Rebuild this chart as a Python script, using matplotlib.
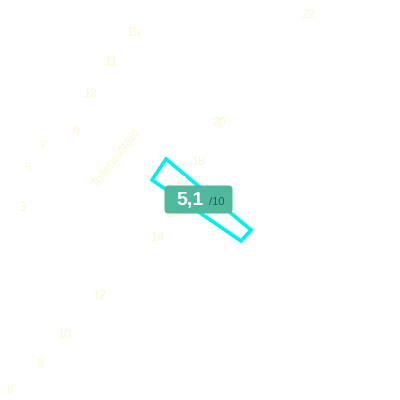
import matplotlib
matplotlib.use("Agg")
import matplotlib.pyplot as plt
from matplotlib.patches import Polygon, FancyBboxPatch

# House numbers on the map and their map coordinates (pixels, y down)
house_numbers = ["22", "15", "11", "13", "20", "18", "9", "7", "16", "5",
                 "14A", "3", "14", "12", "10", "8", "6"]
house_x = [308, 133, 111, 90, 219, 198, 76, 42, 180, 28,
           177, 22, 157, 99, 64, 40, 10]
house_y = [15, 33, 62, 94, 123, 162, 132, 147, 182, 169,
           214, 208, 238, 296, 335, 364, 391]

street_name = "Tollensstraat"
street_xy = (117, 158)
street_angle = 53

# Highlighted building outline
building_x = [166, 152, 241, 251]
building_y = [159, 180, 241, 230]

rating = 5.1
rating_max = 10

plt.rcParams["font.family"] = ["Liberation Sans", "DejaVu Sans"]

fig = plt.figure(figsize=(4, 4), dpi=100)
ax = fig.add_axes([0, 0, 1, 1])
ax.set_xlim(0, 400)
ax.set_ylim(400, 0)
ax.axis("off")

label_color = "#fcf9d2"
for t, x, y in zip(house_numbers, house_x, house_y):
    ax.text(x, y, t, color=label_color, fontsize=9, ha="center", va="center")

ax.text(street_xy[0], street_xy[1], street_name, color=label_color, fontsize=9,
        rotation=street_angle, ha="center", va="center", rotation_mode="anchor")

ax.add_patch(Polygon(list(zip(building_x, building_y)), closed=True,
                     fill=False, edgecolor="#00f0f0", linewidth=2.6,
                     joinstyle="miter"))

# Rating badge
badge = FancyBboxPatch((164.5, 185.5), 68, 28,
                       boxstyle="round,pad=0,rounding_size=4",
                       facecolor="#50b89c", edgecolor="none", zorder=5)
ax.add_patch(badge)
ax.text(190, 200.5, f"{rating:.1f}".replace(".", ","), color="white",
        fontsize=14, fontweight="bold", ha="center", va="center", zorder=6)
ax.text(217, 202, f"/{rating_max}", color="#2c5a4c", fontsize=8,
        ha="center", va="center", zorder=6)

fig.savefig("out.png", dpi=100, facecolor="white")
